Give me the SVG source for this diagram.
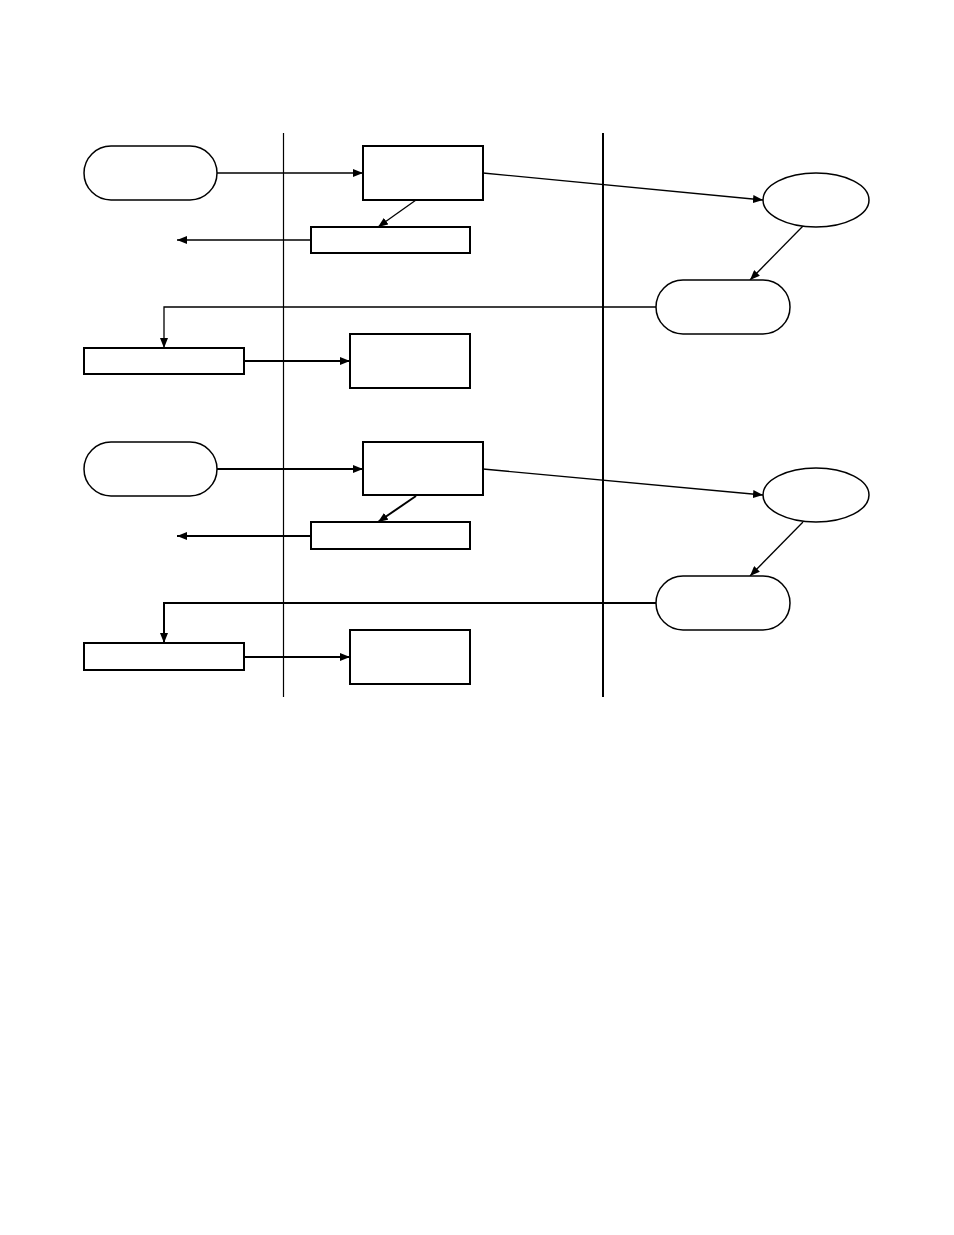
<svg xmlns="http://www.w3.org/2000/svg" width="954" height="1235" viewBox="0 0 954 1235">
<style>
.shape{fill:#fff;stroke:#000;stroke-width:1.5}
.thick{fill:#fff;stroke:#000;stroke-width:2}
.conn{fill:none;stroke:#000;stroke-width:1.3}
.conn2{fill:none;stroke:#000;stroke-width:2}
.lane{stroke:#000;fill:none}
</style>
<defs>
<marker id="arr" viewBox="0 0 10 8" refX="10" refY="4" markerWidth="10" markerHeight="8" markerUnits="userSpaceOnUse" orient="auto">
<path d="M0,0 L10,4 L0,8 Z" fill="#000"/>
</marker>
</defs>
<rect width="954" height="1235" fill="#fff"/>
<g id="lanes">
<line class="lane" x1="283.5" y1="133" x2="283.5" y2="697" stroke-width="1.2"/>
<line class="lane" x1="603" y1="133" x2="603" y2="697" stroke-width="2"/>
</g>
<g id="connectors">
<line class="conn" x1="217" y1="173" x2="363" y2="173" marker-end="url(#arr)"/>
<line class="conn" x1="416" y1="200" x2="378" y2="227" marker-end="url(#arr)"/>
<line class="conn" x1="311" y1="240" x2="177" y2="240" marker-end="url(#arr)"/>
<line class="conn" x1="483" y1="173" x2="763" y2="200" marker-end="url(#arr)"/>
<line class="conn" x1="803" y1="226" x2="750" y2="280" marker-end="url(#arr)"/>
<polyline class="conn" points="656,307 164,307 164,348" marker-end="url(#arr)"/>
<line class="conn2" x1="244" y1="361" x2="350" y2="361" marker-end="url(#arr)"/>

<line class="conn2" x1="217" y1="469" x2="363" y2="469" marker-end="url(#arr)"/>
<line class="conn2" x1="416" y1="496" x2="378" y2="522" marker-end="url(#arr)"/>
<line class="conn2" x1="311" y1="536" x2="177" y2="536" marker-end="url(#arr)"/>
<line class="conn" x1="483" y1="469" x2="763" y2="495" marker-end="url(#arr)"/>
<line class="conn" x1="803" y1="522" x2="750" y2="576" marker-end="url(#arr)"/>
<polyline class="conn2" points="656,603 164,603 164,643" marker-end="url(#arr)"/>
<line class="conn2" x1="244" y1="657" x2="350" y2="657" marker-end="url(#arr)"/>
</g>
<g id="start1"><rect class="shape" x="84" y="146" width="133" height="54" rx="27"/></g>
<g id="process1"><rect class="thick" x="363" y="146" width="120" height="54"/></g>
<g id="output1"><rect class="thick" x="311" y="227" width="159" height="26"/></g>
<g id="ellipse1"><ellipse class="shape" cx="816" cy="200" rx="53" ry="27"/></g>
<g id="return1"><rect class="shape" x="656" y="280" width="134" height="54" rx="27"/></g>
<g id="input1"><rect class="thick" x="84" y="348" width="160" height="26"/></g>
<g id="result1"><rect class="thick" x="350" y="334" width="120" height="54"/></g>

<g id="start2"><rect class="shape" x="84" y="442" width="133" height="54" rx="27"/></g>
<g id="process2"><rect class="thick" x="363" y="442" width="120" height="53"/></g>
<g id="output2"><rect class="thick" x="311" y="522" width="159" height="27"/></g>
<g id="ellipse2"><ellipse class="shape" cx="816" cy="495" rx="53" ry="27"/></g>
<g id="return2"><rect class="shape" x="656" y="576" width="134" height="54" rx="27"/></g>
<g id="input2"><rect class="thick" x="84" y="643" width="160" height="27"/></g>
<g id="result2"><rect class="thick" x="350" y="630" width="120" height="54"/></g>
</svg>
